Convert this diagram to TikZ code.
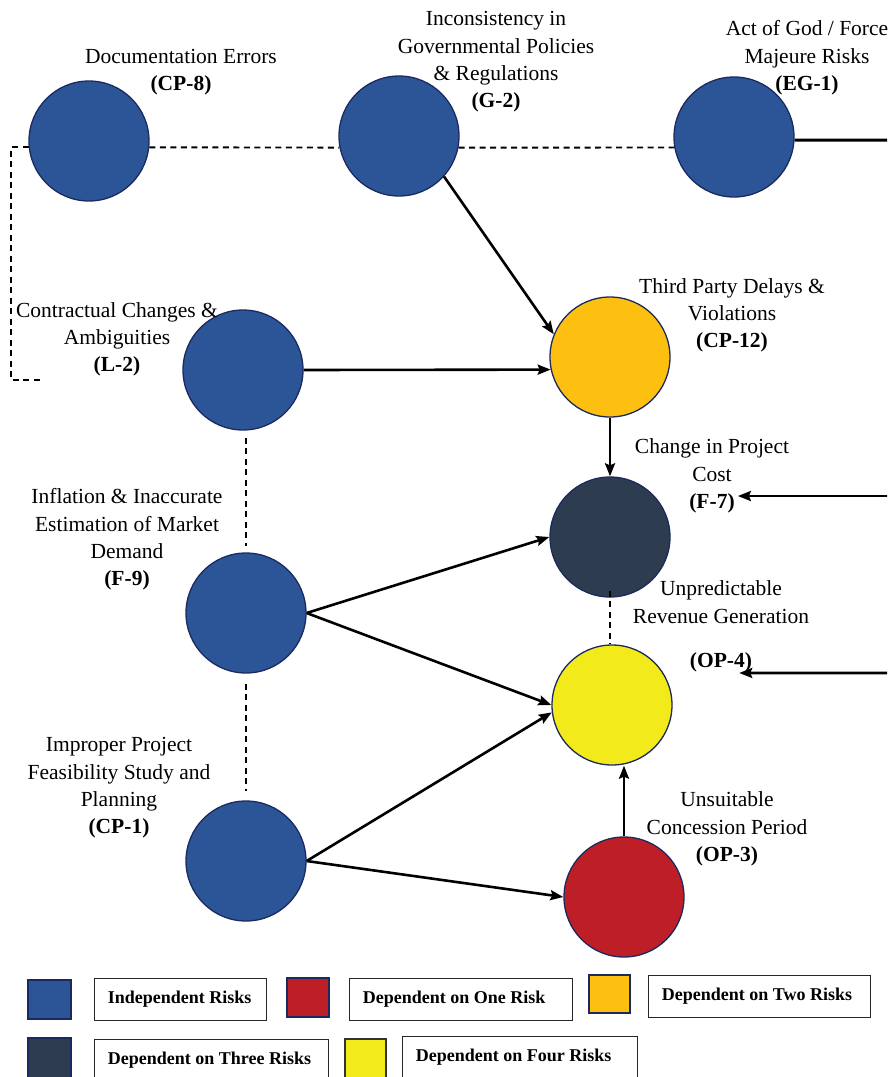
\documentclass[tikz,border=0pt]{standalone}
\usepackage{fontspec}
\setmainfont{Liberation Serif}
\usetikzlibrary{arrows.meta}
\definecolor{riskblue}{HTML}{2C5598}
\definecolor{riskorange}{HTML}{FDC010}
\definecolor{riskdark}{HTML}{2E3C50}
\definecolor{riskyellow}{HTML}{F2EA1A}
\definecolor{riskred}{HTML}{BE1E26}
\definecolor{navyline}{HTML}{1B2A5E}
\begin{document}
\begin{tikzpicture}[x=1pt,y=-1pt,
  risk/.style={circle, minimum size=120pt, inner sep=0pt, draw=navyline, line width=1.3pt},
  lbl/.style={align=center, inner sep=0pt, font=\fontsize{21.5}{27.3}\selectfont},
  arr/.style={line width=2.6pt, -{Stealth[length=13pt,width=10pt,inset=2pt]}},
  dsh/.style={line width=1.9pt, dash pattern=on 6pt off 4.5pt},
  heavy/.style={line width=3pt},
  sq/.style={rectangle, inner sep=0pt, draw=navyline, line width=1.5pt},
  legbox/.style={rectangle, draw=black!85, line width=0.9pt, fill=white, anchor=north west,
     minimum height=42pt, inner xsep=13.5pt, inner ysep=0pt,
     font=\bfseries\fontsize{18}{22}\selectfont}
]
\useasboundingbox (0,0) rectangle (887,1077);
\clip (0,0) rectangle (887,1077);

% risk circles
\node[risk, fill=riskblue]   (cp8)  at (89,141)  {};
\node[risk, fill=riskblue]   (g2)   at (399,136) {};
\node[risk, fill=riskblue]   (eg1)  at (734,137) {};
\node[risk, fill=riskblue]   (l2)   at (243,370) {};
\node[risk, fill=riskorange] (cp12) at (610,357) {};
\node[risk, fill=riskdark]   (f7)   at (610,537) {};
\node[risk, fill=riskyellow] (op4)  at (612,705) {};
\node[risk, fill=riskred]    (op3)  at (624,897) {};
\node[risk, fill=riskblue]   (f9)   at (246,613) {};
\node[risk, fill=riskblue]   (cp1)  at (246,861) {};

% labels
\node[lbl] (cp8lab)  at (181,72)    {Documentation Errors\\\textbf{(CP-8)}};
\node[lbl] (g2lab)   at (496,62)    {Inconsistency in\\Governmental Policies\\\& Regulations\\\textbf{(G-2)}};
\node[lbl] (eg1lab)  at (807,58)    {Act of God / Force\\Majeure Risks\\\textbf{(EG-1)}};
\node[lbl] (cp12lab) at (732,315.5) {Third Party Delays \&\\Violations\\\textbf{(CP-12)}};
\node[lbl] (l2lab)   at (117,339.5) {Contractual Changes \&\\Ambiguities\\\textbf{(L-2)}};
\node[lbl] (f7name)  at (712,460)   {Change in Project\\Cost};
\node[lbl] (f7id)    at (712,503)   {\textbf{(F-7)}};
\node[lbl] (op4name) at (721,602)   {Unpredictable\\Revenue Generation};
\node[lbl] (op4id)   at (721,662)   {\textbf{(OP-4)}};
\node[lbl] (f9lab)   at (127,539.5) {Inflation \& Inaccurate\\Estimation of Market\\Demand\\\textbf{(F-9)}};
\node[lbl] (cp1lab)  at (119,788)   {Improper Project\\Feasibility Study and\\Planning\\\textbf{(CP-1)}};
\node[lbl] (op3lab)  at (727,829)   {Unsuitable\\Concession Period\\\textbf{(OP-3)}};

% free ends
\coordinate (lcb)   at (11,380);
\coordinate (lce)   at (44,380);
\coordinate (eg1out) at (895,140);
\coordinate (f7in)  at (895,496);
\coordinate (op4in) at (895,673);

% dashed links
\draw[dsh] (cp8.186) -| (lcb) -- (lce);
\draw[dsh] (cp8.-6) -- (g2.191);
\draw[dsh] (g2.-11) -- (eg1.190);
\draw[dsh, shorten <=7pt, shorten >=6pt] (f9.north |- l2.south) -- (f9.north);
\draw[dsh, shorten <=10pt, shorten >=9pt] (f9.south) -- (cp1.north);
\draw[dsh, line width=1.4pt, shorten <=-7pt] (f7.south) -- (f7.south |- op4.north);

% solid links
\draw[heavy] (eg1.-3) -- (eg1out);
\draw[arr] (g2.-42) -- (cp12.158);
\draw[arr] (l2.east) -- (cp12.192);
\draw[arr] (cp12.south) -- (f7.north);
\draw[arr] (f7in) -- ([shift={(3,-7)}]f7id.east);
\draw[arr] (op4in) -- ([shift={(-13,1)}]op4id.south east);
\draw[arr] (f9.east) -- (f7.west);
\draw[arr] (f9.east) -- (op4.west);
\draw[arr] (cp1.east) -- (op4.187);
\draw[arr] (cp1.east) -- (op3.west);
\draw[arr] (op3.north) -- (op3.north |- op4.south);

% legend
\node[sq, fill=riskblue,   minimum width=43pt, minimum height=39pt] (s1) at (49.5,999.5) {};
\node[legbox] (b1) at (94,978)  {\makebox[145pt][l]{Independent Risks}};
\node[sq, fill=riskred,    minimum width=42pt, minimum height=39pt] (s2) at (308,997.5) {};
\node[legbox] (b2) at (349,978) {\makebox[196pt][l]{Dependent on One Risk}};
\node[sq, fill=riskorange, minimum width=41pt, minimum height=38pt] (s3) at (609.5,994) {};
\node[legbox] (b3) at (648,975) {\makebox[195pt][l]{Dependent on Two Risks}};
\node[sq, fill=riskdark,   minimum width=43pt, minimum height=40pt] (s4) at (49.5,1058) {};
\node[legbox] (b4) at (94,1039) {\makebox[207pt][l]{Dependent on Three Risks}};
\node[sq, fill=riskyellow, draw=black!80, minimum width=41pt, minimum height=40pt] (s5) at (365.5,1059) {};
\node[legbox] (b5) at (402,1036) {\makebox[208pt][l]{Dependent on Four Risks}};
\end{tikzpicture}
\end{document}
